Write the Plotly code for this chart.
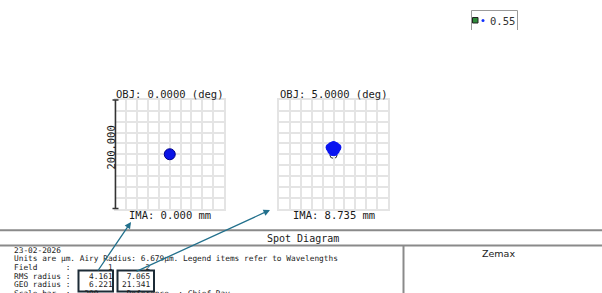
import plotly.graph_objects as go

# ---------------- data ----------------
field_angles = [0.0, 5.0]          # deg
image_heights = [0.000, 8.735]     # mm
rms_radius = [4.161, 7.065]        # um
geo_radius = [6.221, 21.341]       # um
airy_radius = 6.679                # um
wavelength = 0.55
scale_bar = 200.0                  # um

# ray intercepts (um, relative to chief ray)
spot1_x = [0.0]
spot1_y = [0.0]
spot2_x = [0, -7, 7, -4, 4, 0, -8, 8, 0, -5, 5, 0, -2, 2]
spot2_y = [11, 11, 11, 16, 16, 18, 13, 13, 5, 7, 7, 14, 3, 3]

W, H = 602, 293
def PX(x): return x / W
def PY(y): return 1 - y / H

MONO = "DejaVu Sans Mono"
TXT = "#1a1a1a"
NB = "\u00a0"

fig = go.Figure()

fig.add_trace(go.Scatter(x=spot1_x, y=spot1_y, mode="markers", xaxis="x", yaxis="y",
                         marker=dict(size=11, color="#0a14e6", line=dict(color="#00008c", width=1)),
                         hoverinfo="skip"))
fig.add_trace(go.Scatter(x=spot2_x, y=spot2_y, mode="markers", xaxis="x2", yaxis="y2",
                         marker=dict(size=7, color="#0a14f0", line=dict(width=0)),
                         hoverinfo="skip"))

box1 = (115.5, 224.0)
box2 = (279.0, 388.0)
ytop, ybot = 100.0, 208.5

ax_common = dict(range=[-scale_bar / 2, scale_bar / 2], dtick=20, showgrid=True,
                 gridcolor="#e4e4e4", gridwidth=2, zeroline=False, showticklabels=False,
                 showline=True, linecolor="#e4e4e4", linewidth=2, mirror=True, ticks="",
                 fixedrange=True)

fig.update_layout(
    width=W, height=H, margin=dict(l=0, r=0, t=0, b=0),
    paper_bgcolor="white", plot_bgcolor="white", showlegend=False,
    xaxis=dict(domain=[PX(box1[0]), PX(box1[1])], anchor="y", **ax_common),
    yaxis=dict(domain=[PY(ybot), PY(ytop)], anchor="x", **ax_common),
    xaxis2=dict(domain=[PX(box2[0]), PX(box2[1])], anchor="y2", **ax_common),
    yaxis2=dict(domain=[PY(ybot), PY(ytop)], anchor="x2", **ax_common),
)

shapes = []
# Airy circles (centred on chief ray)
for xr, yr in (("x", "y"), ("x2", "y2")):
    shapes.append(dict(type="circle", xref=xr, yref=yr, layer="below",
                       x0=-airy_radius, x1=airy_radius, y0=-airy_radius - 1, y1=airy_radius - 1,
                       line=dict(color="#333333", width=1)))
# scale bar on first plot
shapes.append(dict(type="line", xref="paper", yref="paper", x0=PX(115.5), x1=PX(115.5),
                   y0=PY(ytop), y1=PY(ybot), line=dict(color="#333333", width=1.5)))
for yy in (ytop, ybot):
    shapes.append(dict(type="line", xref="paper", yref="paper", x0=PX(112.5), x1=PX(118.5),
                       y0=PY(yy), y1=PY(yy), line=dict(color="#333333", width=1.5)))
# table lines
shapes.append(dict(type="line", xref="paper", yref="paper", x0=0, x1=1, y0=PY(230.3), y1=PY(230.3),
                   line=dict(color="#8a8a8a", width=2)))
shapes.append(dict(type="line", xref="paper", yref="paper", x0=0, x1=1, y0=PY(245.5), y1=PY(245.5),
                   line=dict(color="#8a8a8a", width=2)))
shapes.append(dict(type="line", xref="paper", yref="paper", x0=PX(403.5), x1=PX(403.5), y0=PY(245.5), y1=0,
                   line=dict(color="#8a8a8a", width=2)))
# boxes around values
for x0, x1 in ((78.5, 113.0), (117.5, 154.0)):
    shapes.append(dict(type="rect", xref="paper", yref="paper", x0=PX(x0), x1=PX(x1),
                       y0=PY(270.5), y1=PY(291.5), line=dict(color="#1c2b36", width=2)))
# legend box (top right)
for (x0, y0, x1, y1) in ((471.5, 10.5, 517.5, 10.5), (471.5, 10.5, 471.5, 30), (517.5, 10.5, 517.5, 30)):
    shapes.append(dict(type="line", xref="paper", yref="paper", x0=PX(x0), x1=PX(x1), y0=PY(y0), y1=PY(y1),
                       line=dict(color="#9a9a9a", width=1)))
shapes.append(dict(type="rect", xref="paper", yref="paper", x0=PX(472.5), x1=PX(478), y0=PY(17.5), y1=PY(23),
                   fillcolor="#2e8b3a", line=dict(color="#222222", width=1)))
shapes.append(dict(type="circle", xref="paper", yref="paper", x0=PX(481.5), x1=PX(484.5), y0=PY(19), y1=PY(22),
                   fillcolor="#1030ff", line=dict(color="#1030ff", width=0)))
fig.update_layout(shapes=shapes)

ann = []
def text(x, y, s, size, xanchor="center", family=MONO, angle=0, color=TXT):
    ann.append(dict(x=PX(x), y=PY(y), xref="paper", yref="paper", text=s.replace(" ", NB),
                    showarrow=False, xanchor=xanchor, yanchor="middle", textangle=angle,
                    font=dict(family=family, size=size, color=color)))

centers = [(box1[0] + box1[1]) / 2, (box2[0] + box2[1]) / 2]
for i in range(2):
    text(centers[i], 94, f"OBJ: {field_angles[i]:.4f} (deg)", 10.5)
    text(centers[i] + 0.5, 214.5, f"IMA: {image_heights[i]:.3f} mm", 10.5)
text(110.5, 148, f"{scale_bar:.3f}", 10.5, angle=-90)

text(488, 20.5, f"{wavelength:.2f}", 10.5, xanchor="left", color="#333333")

text(303, 238, "Spot Diagram", 10)
text(498, 253.5, "Zemax", 9.5, family="DejaVu Sans")

lines = [
    "23-02-2026",
    f"Units are µm. Airy Radius: {airy_radius:.3f}µm. Legend items refer to Wavelengths",
    "Field      :        1       2",
    f"RMS radius :    {rms_radius[0]:.3f}   {rms_radius[1]:.3f}",
    f"GEO radius :    {geo_radius[0]:.3f}  {geo_radius[1]:.3f}",
    f"Scale bar  :   {scale_bar:.0f}      Reference  : Chief Ray",
]
ys = [250, 258.8, 267.5, 276, 284.5, 293]
for s, y in zip(lines, ys):
    text(12, y, s, 7.8, xanchor="left")

# arrows from table values to spot plots
arrow_col = "#22708c"
for hx, hy, tx, ty in ((131, 222, 97, 272), (270, 210, 135, 272)):
    ann.append(dict(x=PX(hx), y=PY(hy), xref="paper", yref="paper", text="", showarrow=True,
                    ax=tx - hx, ay=ty - hy, arrowhead=2, arrowsize=1, arrowwidth=1.3,
                    arrowcolor=arrow_col, standoff=0, startstandoff=0))
fig.update_layout(annotations=ann)

fig.write_html("out.html")
